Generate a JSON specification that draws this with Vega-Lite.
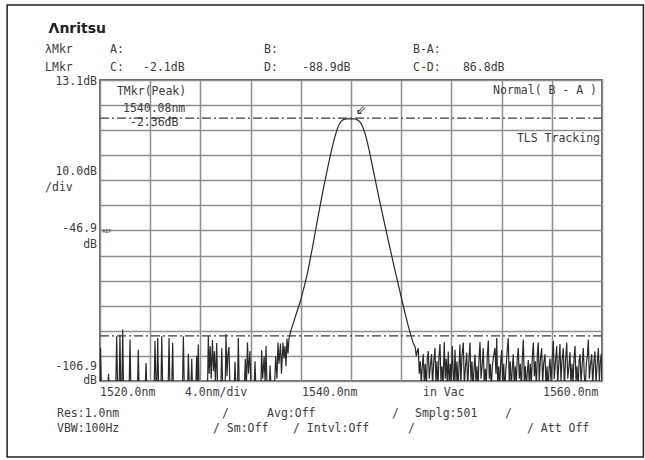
{
  "$schema": "https://vega.github.io/schema/vega-lite/v6.json",
  "width": 502,
  "height": 301,
  "autosize": {"type": "none"},
  "padding": {"left": 100, "top": 80, "right": 43, "bottom": 79},
  "background": "white",
  "config": {"view": {"stroke": "#333333", "strokeWidth": 1.5}},
  "datasets": {
    "trace": [
      {"l":1520.00,"d":-110},{"l":1520.04,"d":-93.6},{"l":1520.12,"d":-111},
      {"l":1520.60,"d":-111},{"l":1520.68,"d":-104},{"l":1520.76,"d":-112},
      {"l":1521.25,"d":-111},{"l":1521.33,"d":-89.1},{"l":1521.41,"d":-112},
      {"l":1521.52,"d":-111},{"l":1521.59,"d":-88.4},{"l":1521.66,"d":-111},
      {"l":1521.74,"d":-110},{"l":1521.81,"d":-86.4},{"l":1521.88,"d":-112},
      {"l":1522.32,"d":-111},{"l":1522.39,"d":-90.4},{"l":1522.46,"d":-110},
      {"l":1522.98,"d":-112},{"l":1523.05,"d":-94.4},{"l":1523.12,"d":-111},
      {"l":1523.60,"d":-110},{"l":1523.67,"d":-99.7},{"l":1523.74,"d":-112},
      {"l":1524.31,"d":-111},{"l":1524.38,"d":-91.0},{"l":1524.46,"d":-108},{"l":1524.53,"d":-110},{"l":1524.60,"d":-89.8},{"l":1524.68,"d":-111},
      {"l":1524.85,"d":-112},{"l":1524.92,"d":-89.0},{"l":1525.00,"d":-111},
      {"l":1525.43,"d":-110},{"l":1525.50,"d":-89.8},{"l":1525.57,"d":-109},{"l":1525.71,"d":-111},{"l":1525.79,"d":-91.7},{"l":1525.86,"d":-112},
      {"l":1526.57,"d":-111},{"l":1526.64,"d":-89.1},{"l":1526.72,"d":-110},
      {"l":1526.97,"d":-112},{"l":1527.04,"d":-96.0},{"l":1527.12,"d":-110},{"l":1527.24,"d":-111},{"l":1527.31,"d":-98.0},{"l":1527.38,"d":-112},
      {"l":1527.63,"d":-110},{"l":1527.70,"d":-96.8},{"l":1527.77,"d":-108},{"l":1527.83,"d":-92.4},{"l":1527.90,"d":-111},
      {"l":1528.56,"d":-112},{"l":1528.63,"d":-89.0},{"l":1528.70,"d":-104},{"l":1528.78,"d":-93.0},{"l":1528.86,"d":-106},{"l":1528.96,"d":-90.6},{"l":1529.04,"d":-103},{"l":1529.12,"d":-95.0},{"l":1529.20,"d":-108},{"l":1529.30,"d":-91.8},{"l":1529.38,"d":-111},
      {"l":1529.63,"d":-110},{"l":1529.70,"d":-93.8},{"l":1529.78,"d":-110},
      {"l":1529.97,"d":-111},{"l":1530.04,"d":-88.2},{"l":1530.12,"d":-105},{"l":1530.20,"d":-96.0},{"l":1530.28,"d":-93.4},{"l":1530.36,"d":-111},
      {"l":1530.69,"d":-110},{"l":1530.76,"d":-99.2},{"l":1530.84,"d":-111},
      {"l":1530.95,"d":-112},{"l":1531.02,"d":-89.8},{"l":1531.10,"d":-111},
      {"l":1531.50,"d":-110},{"l":1531.58,"d":-98.0},{"l":1531.66,"d":-110},{"l":1531.75,"d":-91.6},{"l":1531.83,"d":-104},{"l":1531.95,"d":-95.0},{"l":1532.03,"d":-111},
      {"l":1532.28,"d":-110},{"l":1532.35,"d":-99.0},{"l":1532.43,"d":-111},
      {"l":1532.81,"d":-112},{"l":1532.88,"d":-94.6},{"l":1532.96,"d":-106},{"l":1533.08,"d":-97.0},{"l":1533.16,"d":-108},{"l":1533.23,"d":-93.0},{"l":1533.31,"d":-110},
      {"l":1533.48,"d":-111},{"l":1533.55,"d":-100.7},{"l":1533.63,"d":-110},
      {"l":1533.90,"d":-110},{"l":1534.00,"d":-97.0},{"l":1534.10,"d":-106},{"l":1534.18,"d":-91.6},{"l":1534.26,"d":-100},{"l":1534.38,"d":-92.0},{"l":1534.46,"d":-104},{"l":1534.58,"d":-91.6},{"l":1534.66,"d":-98},{"l":1534.74,"d":-93},{"l":1534.82,"d":-101},{"l":1534.90,"d":-90.0},{"l":1534.98,"d":-96},
      {"l":1535.06,"d":-90},{"l":1535.20,"d":-87},{"l":1535.36,"d":-84.5},{"l":1535.52,"d":-82},{"l":1535.68,"d":-79.5},{"l":1535.84,"d":-77},
      {"l":1536.00,"d":-74.5},{"l":1536.16,"d":-71.5},{"l":1536.32,"d":-68.3},{"l":1536.48,"d":-65},{"l":1536.64,"d":-61.2},{"l":1536.80,"d":-57},{"l":1536.96,"d":-52.8},
      {"l":1537.12,"d":-48.4},{"l":1537.28,"d":-44},{"l":1537.44,"d":-39.7},{"l":1537.60,"d":-35.4},{"l":1537.76,"d":-31.2},{"l":1537.92,"d":-27.2},
      {"l":1538.08,"d":-23.4},{"l":1538.24,"d":-19.6},{"l":1538.40,"d":-16.0},{"l":1538.56,"d":-12.6},{"l":1538.72,"d":-9.5},{"l":1538.88,"d":-6.8},
      {"l":1539.04,"d":-4.7},{"l":1539.20,"d":-3.4},{"l":1539.36,"d":-2.8},{"l":1539.52,"d":-2.5},{"l":1539.68,"d":-2.4},{"l":1539.84,"d":-2.37},
      {"l":1540.00,"d":-2.36},{"l":1540.08,"d":-2.36},{"l":1540.16,"d":-2.38},{"l":1540.32,"d":-2.45},{"l":1540.48,"d":-2.7},{"l":1540.64,"d":-3.2},{"l":1540.80,"d":-4.2},{"l":1540.96,"d":-5.9},
      {"l":1541.12,"d":-8.3},{"l":1541.28,"d":-11.3},{"l":1541.44,"d":-14.8},{"l":1541.60,"d":-18.6},{"l":1541.76,"d":-22.5},{"l":1541.92,"d":-26.4},
      {"l":1542.08,"d":-30.3},{"l":1542.24,"d":-34.1},{"l":1542.40,"d":-37.9},{"l":1542.56,"d":-41.6},{"l":1542.72,"d":-45.2},{"l":1542.88,"d":-48.8},
      {"l":1543.04,"d":-52.4},{"l":1543.20,"d":-56.0},{"l":1543.36,"d":-59.6},{"l":1543.52,"d":-63.1},{"l":1543.68,"d":-66.6},{"l":1543.84,"d":-70.0},
      {"l":1544.00,"d":-73.4},{"l":1544.16,"d":-76.8},{"l":1544.32,"d":-80.1},{"l":1544.48,"d":-83.3},{"l":1544.64,"d":-86.4},{"l":1544.80,"d":-89.2},
      {"l":1544.96,"d":-91.8},{"l":1545.12,"d":-93.5},{"l":1545.20,"d":-97},{"l":1545.28,"d":-95},{"l":1545.36,"d":-93.8},{"l":1545.44,"d":-104},{"l":1545.52,"d":-99},{"l":1545.60,"d":-108},{"l":1545.68,"d":-101},{"l":1545.76,"d":-96.2},{"l":1545.84,"d":-108},{"l":1545.92,"d":-100},
      {"l":1546.00,"d":-110},{"l":1546.08,"d":-98},{"l":1546.16,"d":-95},{"l":1546.24,"d":-106},{"l":1546.32,"d":-101},{"l":1546.42,"d":-96.2},{"l":1546.50,"d":-109},{"l":1546.58,"d":-100},{"l":1546.69,"d":-93.8},{"l":1546.77,"d":-108},{"l":1546.85,"d":-99},{"l":1546.93,"d":-110},
      {"l":1547.01,"d":-97},{"l":1547.09,"d":-92.2},{"l":1547.17,"d":-107},{"l":1547.25,"d":-101},{"l":1547.33,"d":-109},{"l":1547.43,"d":-91.4},{"l":1547.51,"d":-106},{"l":1547.59,"d":-98},{"l":1547.67,"d":-108},{"l":1547.75,"d":-95.1},{"l":1547.83,"d":-110},{"l":1547.91,"d":-100},{"l":1547.99,"d":-107},
      {"l":1548.07,"d":-93.0},{"l":1548.15,"d":-104},{"l":1548.21,"d":-110},{"l":1548.29,"d":-94.4},{"l":1548.37,"d":-107},{"l":1548.45,"d":-99},{"l":1548.53,"d":-111},{"l":1548.61,"d":-101},{"l":1548.68,"d":-92.4},{"l":1548.76,"d":-108},{"l":1548.84,"d":-97},{"l":1548.95,"d":-91.6},
      {"l":1549.03,"d":-109},{"l":1549.11,"d":-102},{"l":1549.22,"d":-95.6},{"l":1549.30,"d":-110},{"l":1549.38,"d":-100},{"l":1549.48,"d":-91.6},{"l":1549.56,"d":-107},{"l":1549.64,"d":-99},{"l":1549.72,"d":-111},{"l":1549.80,"d":-102},{"l":1549.88,"d":-96.4},{"l":1549.96,"d":-108},
      {"l":1550.04,"d":-101},{"l":1550.12,"d":-110},{"l":1550.20,"d":-98},{"l":1550.28,"d":-91.4},{"l":1550.36,"d":-106},{"l":1550.46,"d":-100},{"l":1550.54,"d":-93.8},{"l":1550.62,"d":-109},{"l":1550.70,"d":-102},{"l":1550.78,"d":-108},{"l":1550.86,"d":-97},{"l":1550.94,"d":-90.8},
      {"l":1551.02,"d":-106},{"l":1551.10,"d":-100},{"l":1551.18,"d":-110},{"l":1551.26,"d":-101},{"l":1551.36,"d":-97},{"l":1551.47,"d":-93.8},{"l":1551.55,"d":-104},{"l":1551.61,"d":-89.8},{"l":1551.69,"d":-108},{"l":1551.77,"d":-101},{"l":1551.85,"d":-110},{"l":1551.93,"d":-99},
      {"l":1552.01,"d":-94.6},{"l":1552.09,"d":-108},{"l":1552.17,"d":-100},{"l":1552.25,"d":-111},{"l":1552.33,"d":-103},{"l":1552.43,"d":-96},{"l":1552.53,"d":-89.8},{"l":1552.61,"d":-107},{"l":1552.69,"d":-99},{"l":1552.77,"d":-110},{"l":1552.85,"d":-102},{"l":1552.93,"d":-96.2},
      {"l":1553.01,"d":-109},{"l":1553.09,"d":-101},{"l":1553.17,"d":-108},{"l":1553.25,"d":-98},{"l":1553.33,"d":-93.8},{"l":1553.41,"d":-106},{"l":1553.49,"d":-100},{"l":1553.57,"d":-111},{"l":1553.65,"d":-98},{"l":1553.73,"d":-90.4},{"l":1553.81,"d":-107},{"l":1553.89,"d":-101},{"l":1553.97,"d":-110},
      {"l":1554.05,"d":-103},{"l":1554.13,"d":-98.5},{"l":1554.21,"d":-109},{"l":1554.29,"d":-100},{"l":1554.37,"d":-108},{"l":1554.45,"d":-97},{"l":1554.53,"d":-91.6},{"l":1554.61,"d":-105},{"l":1554.69,"d":-99},{"l":1554.77,"d":-110},{"l":1554.85,"d":-96},{"l":1554.92,"d":-91.6},
      {"l":1555.00,"d":-107},{"l":1555.08,"d":-99},{"l":1555.19,"d":-93.8},{"l":1555.27,"d":-108},{"l":1555.35,"d":-100},{"l":1555.46,"d":-96.2},{"l":1555.54,"d":-109},{"l":1555.62,"d":-101},{"l":1555.70,"d":-111},{"l":1555.78,"d":-102},{"l":1555.86,"d":-98},{"l":1555.94,"d":-108},
      {"l":1556.02,"d":-99},{"l":1556.12,"d":-91.0},{"l":1556.20,"d":-106},{"l":1556.28,"d":-100},{"l":1556.39,"d":-93.0},{"l":1556.47,"d":-108},{"l":1556.55,"d":-101},{"l":1556.65,"d":-92.2},{"l":1556.73,"d":-107},{"l":1556.81,"d":-99},{"l":1556.92,"d":-93.8},
      {"l":1557.00,"d":-110},{"l":1557.08,"d":-100},{"l":1557.19,"d":-91.6},{"l":1557.27,"d":-106},{"l":1557.35,"d":-102},{"l":1557.45,"d":-95.4},{"l":1557.53,"d":-109},{"l":1557.61,"d":-100},{"l":1557.69,"d":-108},{"l":1557.77,"d":-98},{"l":1557.85,"d":-93.0},{"l":1557.93,"d":-107},
      {"l":1558.01,"d":-101},{"l":1558.09,"d":-111},{"l":1558.17,"d":-99},{"l":1558.25,"d":-96.2},{"l":1558.33,"d":-108},{"l":1558.41,"d":-101},{"l":1558.51,"d":-93.8},{"l":1558.59,"d":-105},{"l":1558.67,"d":-110},{"l":1558.75,"d":-100},{"l":1558.83,"d":-97},{"l":1558.91,"d":-90.4},{"l":1558.99,"d":-106},
      {"l":1559.07,"d":-101},{"l":1559.18,"d":-96.2},{"l":1559.26,"d":-109},{"l":1559.34,"d":-100},{"l":1559.44,"d":-95.1},{"l":1559.52,"d":-108},{"l":1559.60,"d":-101},{"l":1559.71,"d":-93.8},{"l":1559.79,"d":-107},{"l":1559.87,"d":-99},{"l":1559.95,"d":-96},{"l":1560.00,"d":-110}
    ],
    "markers": [{"name": "C", "d": -2.1}, {"name": "D", "d": -88.9}],
    "peak": [{"l": 1540.08, "d": -2.36}],
    "frame": [{"l": 1512.6, "l2": 1563.3, "d": 43.0, "d2": -137.2}],
    "logo": [{"l": 1515.9, "d": 33.4, "t": "Λnritsu"}],
    "ref": [{"l": 1520.2, "d": -46.9, "t": "REF"}],
    "leftText": [
      {"l": 1515.62, "d": 25.06, "t": "λMkr"},
      {"l": 1520.8, "d": 25.06, "t": "A:"},
      {"l": 1533.07, "d": 25.06, "t": "B:"},
      {"l": 1544.94, "d": 25.06, "t": "B-A:"},
      {"l": 1515.62, "d": 17.9, "t": "LMkr"},
      {"l": 1520.8, "d": 17.9, "t": "C:"},
      {"l": 1523.43, "d": 17.9, "t": "-2.1dB"},
      {"l": 1533.07, "d": 17.9, "t": "D:"},
      {"l": 1536.1, "d": 17.9, "t": "-88.9dB"},
      {"l": 1544.94, "d": 17.9, "t": "C-D:"},
      {"l": 1548.92, "d": 17.9, "t": "86.8dB"},
      {"l": 1515.62, "d": -30.0, "t": "/div"},
      {"l": 1521.35, "d": 8.3, "t": "TMkr(Peak)"},
      {"l": 1521.83, "d": 1.5, "t": "1540.08nm"},
      {"l": 1522.39, "d": -4.05, "t": "-2.36dB"},
      {"l": 1520.0, "d": -111.7, "t": "1520.0nm"},
      {"l": 1526.77, "d": -111.7, "t": "4.0nm/div"},
      {"l": 1536.1, "d": -111.7, "t": "1540.0nm"},
      {"l": 1545.74, "d": -111.7, "t": "in Vac"},
      {"l": 1555.3, "d": -111.7, "t": "1560.0nm"},
      {"l": 1516.57, "d": -120.1, "t": "Res:1.0nm"},
      {"l": 1529.72, "d": -120.1, "t": "/"},
      {"l": 1533.31, "d": -120.1, "t": "Avg:Off"},
      {"l": 1543.27, "d": -120.1, "t": "/"},
      {"l": 1545.1, "d": -120.1, "t": "Smplg:501"},
      {"l": 1552.27, "d": -120.1, "t": "/"},
      {"l": 1516.57, "d": -126.1, "t": "VBW:100Hz"},
      {"l": 1529.0, "d": -126.1, "t": "/ Sm:Off"},
      {"l": 1535.38, "d": -126.1, "t": "/ Intvl:Off"},
      {"l": 1544.54, "d": -126.1, "t": "/"},
      {"l": 1554.02, "d": -126.1, "t": "/ Att Off"}
    ],
    "rightText": [
      {"l": 1519.76, "d": 12.3, "t": "13.1dB"},
      {"l": 1519.76, "d": -23.6, "t": "10.0dB"},
      {"l": 1519.76, "d": -46.3, "t": "-46.9"},
      {"l": 1519.76, "d": -52.7, "t": "dB"},
      {"l": 1519.76, "d": -101.3, "t": "-106.9"},
      {"l": 1519.76, "d": -106.9, "t": "dB"},
      {"l": 1559.6, "d": 8.7, "t": "Normal( B - A )"},
      {"l": 1559.84, "d": -10.4, "t": "TLS Tracking"}
    ]
  },
  "encoding": {
    "x": {"field": "l", "type": "quantitative", "scale": {"domain": [1520, 1560], "nice": false, "zero": false},
          "axis": {"values": [1520,1524,1528,1532,1536,1540,1544,1548,1552,1556,1560], "grid": true, "gridColor": "#8f8f8f", "gridWidth": 1.5, "labels": false, "ticks": false, "domain": false, "title": null}},
    "y": {"field": "d", "type": "quantitative", "scale": {"domain": [-106.9, 13.1], "nice": false, "zero": false},
          "axis": {"values": [-106.9,-96.9,-86.9,-76.9,-66.9,-56.9,-46.9,-36.9,-26.9,-16.9,-6.9,3.1,13.1], "grid": true, "gridColor": "#8f8f8f", "gridWidth": 1.5, "labels": false, "ticks": false, "domain": false, "title": null}}
  },
  "layer": [
    {
      "data": {"name": "trace"},
      "mark": {"type": "line", "clip": true, "color": "#2a2a2a", "strokeWidth": 1.2}
    },
    {
      "data": {"name": "markers"},
      "mark": {"type": "rule", "color": "#3a3a3a", "strokeWidth": 1.1, "strokeDash": [9, 3, 2, 3]},
      "encoding": {"x": null, "y": {"field": "d", "type": "quantitative"}}
    },
    {
      "data": {"name": "peak"},
      "mark": {"type": "text", "text": "⇙", "font": "DejaVu Sans", "fontSize": 13, "color": "#333333", "dx": 9, "dy": -9}
    },
    {
      "data": {"name": "frame"},
      "mark": {"type": "rect", "fill": "transparent", "stroke": "#222222", "strokeWidth": 1.5},
      "encoding": {
        "x": {"field": "l", "type": "quantitative"},
        "x2": {"field": "l2"},
        "y": {"field": "d", "type": "quantitative"},
        "y2": {"field": "d2"}
      }
    },
    {
      "data": {"name": "logo"},
      "mark": {"type": "text", "align": "left", "baseline": "middle", "font": "DejaVu Sans", "fontSize": 14, "fontWeight": "bold", "color": "#222222"},
      "encoding": {"text": {"field": "t"}}
    },
    {
      "data": {"name": "ref"},
      "mark": {"type": "text", "align": "left", "baseline": "middle", "font": "DejaVu Sans Mono", "fontSize": 5, "color": "#444444"},
      "encoding": {"text": {"field": "t"}}
    },
    {
      "data": {"name": "leftText"},
      "mark": {"type": "text", "align": "left", "baseline": "middle", "font": "DejaVu Sans Mono", "fontSize": 11.5, "color": "#3c3c3c"},
      "encoding": {"text": {"field": "t"}}
    },
    {
      "data": {"name": "rightText"},
      "mark": {"type": "text", "align": "right", "baseline": "middle", "font": "DejaVu Sans Mono", "fontSize": 11.5, "color": "#3c3c3c"},
      "encoding": {"text": {"field": "t"}}
    }
  ]
}
